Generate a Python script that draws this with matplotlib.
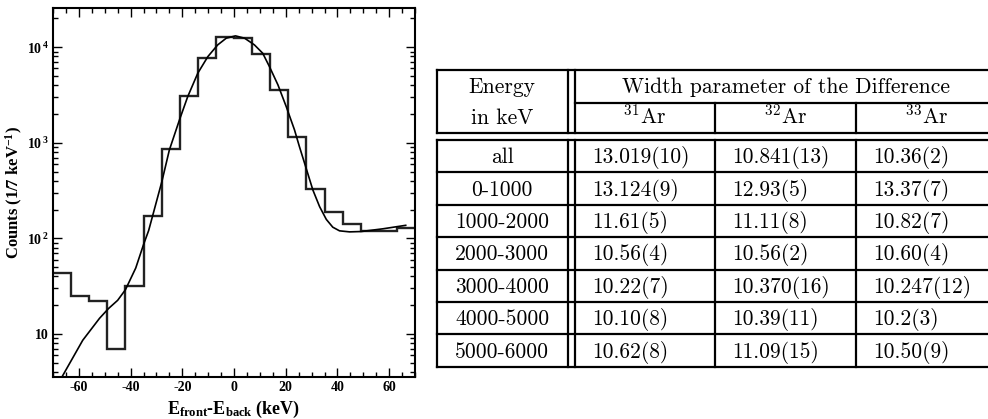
import matplotlib
matplotlib.use("Agg")
import matplotlib.pyplot as plt
import numpy as np
from matplotlib.ticker import FixedLocator, FixedFormatter, MultipleLocator, NullFormatter

plt.rcParams['font.family'] = ['Liberation Serif', 'DejaVu Serif']
plt.rcParams['mathtext.fontset'] = 'custom'
plt.rcParams['mathtext.default'] = 'regular'
plt.rcParams['axes.unicode_minus'] = False

# ---------------- data ----------------
bin_edges = np.arange(-70, 71, 7)
counts = [43, 25, 22, 7, 32, 172, 870, 3100, 7650, 12800,
          12400, 8450, 3600, 1140, 328, 191, 140, 119, 119, 128]

fit_x = [-66.5, -58.5, -52.0, -48.5, -45.0, -42.0, -38.0, -35.0, -33.0, -27.9,
         -25.0, -21.1, -17.9, -14.0, -10.1, -6.3, -3.0, 0.6, 4.1, 7.9,
         11.1, 13.7, 17.0, 20.2, 23.4, 25.3, 27.9, 30.5, 33.1, 35.7,
         38.2, 40.8, 44.7, 49.2, 57.6, 66.4]
fit_y = [3.57, 8.6, 14.6, 18.5, 22.5, 29, 49, 86, 121, 393,
         841, 1734, 3040, 5350, 7980, 10570, 12420, 13130, 12420, 10570,
         8650, 6270, 4030, 2390, 1364, 912, 542, 321, 215, 158,
         131, 120, 117, 118, 126, 137]

x_ticks = [-60, -40, -20, 0, 20, 40, 60]
y_ticks = [10, 100, 1000, 10000]
y_ticklabels = ['10', r'$10^{\,2}$', r'$10^{\,3}$', r'$10^{\,4}$']

table_header_energy = ['Energy', 'in keV']
table_header_span = 'Width parameter of the Difference'
isotopes = ['31', '32', '33']
energy_ranges = ['all', '0-1000', '1000-2000', '2000-3000', '3000-4000', '4000-5000', '5000-6000']
width_ar31 = ['13.019(10)', '13.124(9)', '11.61(5)', '10.56(4)', '10.22(7)', '10.10(8)', '10.62(8)']
width_ar32 = ['10.841(13)', '12.93(5)', '11.11(8)', '10.56(2)', '10.370(16)', '10.39(11)', '11.09(15)']
width_ar33 = ['10.36(2)', '13.37(7)', '10.82(7)', '10.60(4)', '10.247(12)', '10.2(3)', '10.50(9)']

# ---------------- figure ----------------
W, H = 988, 419
fig = plt.figure(figsize=(W / 100, H / 100), dpi=100)

ax = fig.add_axes([53 / W, 1 - 377 / H, (415 - 53) / W, (377 - 8) / H])
ax.set_yscale('log')
ax.stairs(counts, bin_edges, baseline=None, color='#222222', lw=1.7)
ax.plot(fit_x, fit_y, color='black', lw=1.2)
ax.set_xlim(-70, 70)
ax.set_ylim(3.55, 25700)

ax.xaxis.set_major_locator(FixedLocator(x_ticks))
ax.xaxis.set_minor_locator(MultipleLocator(5))
ax.yaxis.set_major_locator(FixedLocator(y_ticks))
ax.yaxis.set_major_formatter(FixedFormatter(y_ticklabels))
ax.yaxis.set_minor_locator(matplotlib.ticker.LogLocator(base=10, subs=np.arange(2, 10)))
ax.yaxis.set_minor_formatter(NullFormatter())
ax.tick_params(which='both', direction='in', top=True, right=True, width=1.0)
ax.tick_params(which='major', length=6.5, labelsize=10, pad=3)
ax.tick_params(which='minor', length=3.5)
for lab in ax.get_xticklabels() + ax.get_yticklabels():
    lab.set_fontweight('bold')
for s in ax.spines.values():
    s.set_linewidth(1.5)

ax.set_xlabel(r'E$_{front}$-E$_{back}$ (keV)', fontsize=13, fontweight='bold')
ax.set_ylabel(r'Counts (1/7 keV$^{-1}$)', fontsize=12, fontweight='bold')
ax.xaxis.set_label_coords(0.5, -0.058)
ax.yaxis.set_label_coords(-0.078, 0.5)

# ---------------- table ----------------
tax = fig.add_axes([0, 0, 1, 1])
tax.set_xlim(0, W)
tax.set_ylim(H, 0)
tax.axis('off')

lw = 1.6
xl, dv1, dv2, c2, c3, xr = 436.7, 567.7, 574.7, 715.0, 856.0, 997.0
yt, ysub, yhb, yb0 = 70.0, 102.7, 133.3, 140.0
nrows = len(energy_ranges)
rh = (366.7 - yb0) / nrows
yb1 = yb0 + nrows * rh

def hline(y, x0, x1):
    tax.plot([x0, x1], [y, y], color='black', lw=lw, solid_capstyle='projecting', clip_on=False)

def vline(x, y0, y1):
    tax.plot([x, x], [y0, y1], color='black', lw=lw, solid_capstyle='projecting', clip_on=False)

hline(yt, xl, xr)
hline(ysub, dv2, xr)
hline(yhb, xl, xr)
for i in range(nrows + 1):
    hline(yb0 + i * rh, xl, xr)
for (y0, y1) in [(yt, yhb), (yb0, yb1)]:
    vline(xl, y0, y1)
    vline(dv1, y0, y1)
    vline(dv2, y0, y1)
    vline(xr, y0, y1)
for x in (c2, c3):
    vline(x, ysub, yhb)
    vline(x, yb0, yb1)

tfont = dict(family='cmr10', fontsize=15.5, color='black')
off = 7.0
c1x = (xl + dv1) / 2
tax.text(c1x, (yt + ysub) / 2 + off, table_header_energy[0], ha='center', va='baseline', **tfont)
tax.text(c1x, (ysub + yhb) / 2 + off - 1.5, table_header_energy[1], ha='center', va='baseline', **tfont)
tax.text((dv2 + xr) / 2, (yt + ysub) / 2 + off, table_header_span, ha='center', va='baseline', **tfont)
col_bounds = [(dv2, c2), (c2, c3), (c3, xr)]
for iso, (a, b) in zip(isotopes, col_bounds):
    tax.text((a + b) / 2, (ysub + yhb) / 2 + off - 1.5, r'$^{' + iso + r'}$Ar', ha='center', va='baseline', **tfont)

for i in range(nrows):
    yc = yb0 + (i + 0.5) * rh + off
    tax.text(c1x, yc, energy_ranges[i], ha='center', va='baseline', **tfont)
    for vals, (a, b) in zip([width_ar31, width_ar32, width_ar33], col_bounds):
        tax.text(a + 17, yc, vals[i], ha='left', va='baseline', **tfont)

fig.savefig('out.png', dpi=100)
